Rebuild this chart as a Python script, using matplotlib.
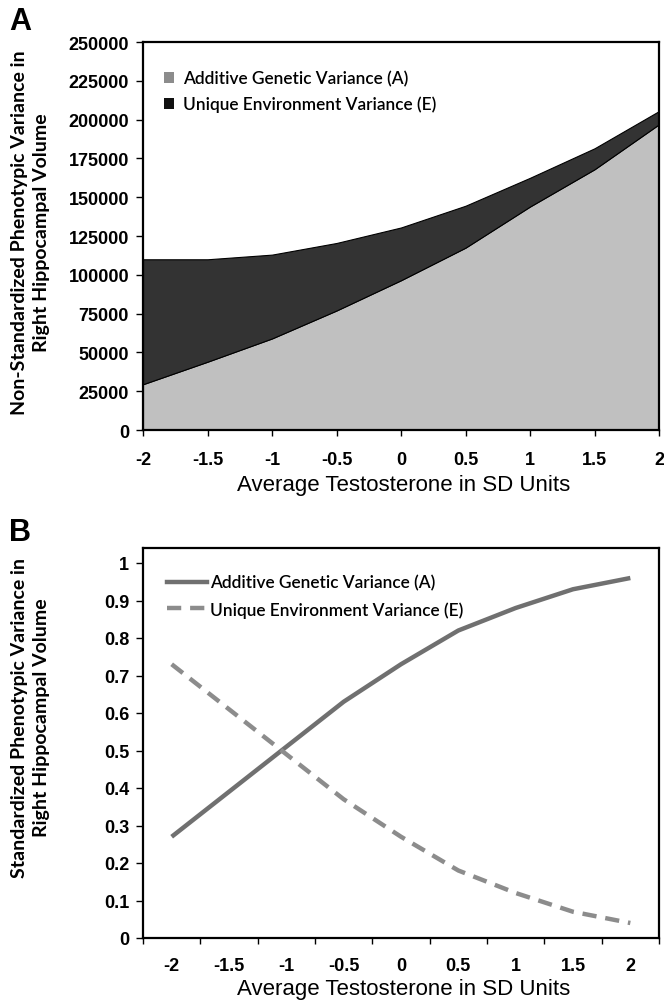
import matplotlib
matplotlib.use('Agg')
import matplotlib.pyplot as plt
from matplotlib.patches import Patch
from matplotlib.lines import Line2D

# testosterone levels (SD units)
testo = [-2, -1.5, -1, -0.5, 0, 0.5, 1, 1.5, 2]
testo_labels = ['-2', '-1.5', '-1', '-0.5', '0', '0.5', '1', '1.5', '2']

# panel A: non-standardized variance components (stacked)
var_a = [29500, 44000, 59000, 77000, 96500, 117500, 144000, 168000, 197000]
var_e = [80500, 66000, 54000, 43500, 34000, 27000, 18500, 13500, 8500]
a_yticks = [0, 25000, 50000, 75000, 100000, 125000, 150000, 175000, 200000, 225000, 250000]

# panel B: standardized variance components
std_a = [0.27, 0.39, 0.51, 0.63, 0.73, 0.82, 0.88, 0.93, 0.96]
std_e = [0.73, 0.61, 0.49, 0.37, 0.27, 0.18, 0.12, 0.07, 0.04]
b_yticks = [0, 0.1, 0.2, 0.3, 0.4, 0.5, 0.6, 0.7, 0.8, 0.9, 1]
b_ylabels = ['0', '0.1', '0.2', '0.3', '0.4', '0.5', '0.6', '0.7', '0.8', '0.9', '1']

lab_a = 'Additive Genetic Variance (A)'
lab_e = 'Unique Environment Variance (E)'
xlab = 'Average Testosterone in SD Units'

W, H = 664, 1004
fig = plt.figure(figsize=(W / 100, H / 100), dpi=100)

tickfont = dict(family='Liberation Sans', weight='bold', size=13)
labfont = dict(family='Lato', weight='bold', size=14)
legfont = dict(family='Lato', weight=600, size=12.4)


def style(ax):
    for s in ax.spines.values():
        s.set_linewidth(1.6)
        s.set_color('black')
    ax.tick_params(axis='y', direction='out', length=5, width=1, pad=5)
    ax.tick_params(axis='x', which='major', direction='out', length=4, width=1)
    for t in ax.get_yticklabels() + ax.get_xticklabels(which='both'):
        t.set_fontproperties(matplotlib.font_manager.FontProperties(**tickfont))


# ---- panel A ----
axA = fig.add_axes([143 / W, 1 - 431 / H, 516 / W, 388 / H])
axA.stackplot(testo, var_a, var_e, colors=['#c0c0c0', '#333333'],
              edgecolor='black', linewidth=0.8)
axA.set_xlim(-2, 2)
axA.set_ylim(0, 250000)
axA.set_xticks(testo)
axA.set_xticklabels(testo_labels)
axA.set_yticks(a_yticks)
axA.set_yticklabels([str(v) for v in a_yticks])
style(axA)
axA.tick_params(axis='x', pad=11)
axA.legend(handles=[Patch(facecolor='#8c8c8c', edgecolor='none', label=lab_a),
                    Patch(facecolor='#111111', edgecolor='none', label=lab_e)],
           loc='upper left', bbox_to_anchor=(0.027, 0.945), frameon=False,
           prop=legfont, handlelength=0.6, handleheight=0.6,
           handletextpad=0.5, labelspacing=0.55, borderaxespad=0)

# ---- panel B ----
axB = fig.add_axes([143 / W, 1 - 939 / H, 516 / W, 390 / H])
xs = list(range(len(testo)))
axB.plot(xs, std_a, color='#707070', lw=3.2, solid_capstyle='butt')
axB.plot(xs, std_e, color='#8c8c8c', lw=3.2, dashes=(3.2, 2.0))
axB.set_xlim(-0.5, len(testo) - 0.5)
axB.set_ylim(0, 1.04)
axB.set_xticks([i - 0.5 for i in range(len(testo) + 1)])
axB.set_xticklabels([])
axB.set_xticks(xs, minor=True)
axB.set_xticklabels(testo_labels, minor=True)
axB.tick_params(axis='x', which='minor', length=0, pad=14)
axB.set_yticks(b_yticks)
axB.set_yticklabels(b_ylabels)
style(axB)
axB.legend(handles=[Line2D([], [], color='#707070', lw=3.2, label=lab_a),
                    Line2D([], [], color='#8c8c8c', lw=3.2, dashes=(3.2, 2.0), label=lab_e)],
           loc='upper left', bbox_to_anchor=(0.033, 0.95), frameon=False,
           prop=legfont, handlelength=2.3, handletextpad=0.2,
           labelspacing=0.6, borderaxespad=0)

# ---- labels ----
fig.text(9 / W, 1 - 22 / H, 'A', family='Liberation Sans', weight='bold',
         size=22, ha='left', va='center')
fig.text(9 / W, 1 - 533 / H, 'B', family='Liberation Sans', weight='bold',
         size=22, ha='left', va='center')
fig.text(30.5 / W, 1 - 233 / H,
         'Non-Standardized Phenotypic Variance in\nRight Hippocampal Volume',
         rotation=90, ha='center', va='center', multialignment='center',
         linespacing=1.3, **labfont)
fig.text(30.5 / W, 1 - 718 / H,
         'Standardized Phenotypic Variance in\nRight Hippocampal Volume',
         rotation=90, ha='center', va='center', multialignment='center',
         linespacing=1.3, **labfont)
fig.text(404 / W, 1 - 485 / H, xlab, family='Liberation Sans', size=16,
         ha='center', va='center')
fig.text(404 / W, 1 - 990 / H, xlab, family='Liberation Sans', size=16,
         ha='center', va='center')

fig.savefig('out.png', dpi=100)
